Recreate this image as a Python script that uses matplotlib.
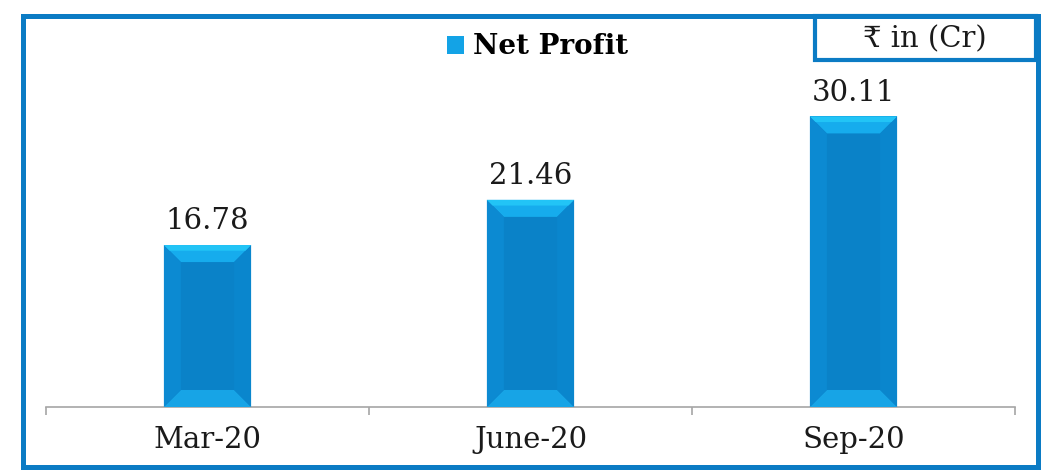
import matplotlib
matplotlib.use("Agg")
import matplotlib.pyplot as plt
from matplotlib.patches import Rectangle, Polygon, Patch

periods = ["Mar-20", "June-20", "Sep-20"]
net_profit = [16.78, 21.46, 30.11]

W, H = 1044, 470
fig = plt.figure(figsize=(W / 100, H / 100), dpi=100)
fig.patch.set_facecolor("white")

serif = ["DejaVu Serif", "DejaVu Sans", "Noto Sans"]


def px(x0, y0, x1, y1):
    # pixel box (top-left origin) -> figure fraction
    return x0 / W, 1 - y1 / H, (x1 - x0) / W, (y1 - y0) / H


ax = fig.add_axes(px(46, 20, 1015, 407))
x = list(range(len(periods)))
bars = ax.bar(x, net_profit, width=0.27, color="#0a82c8", zorder=2)
ax.set_xlim(-0.5, 2.5)
ax.set_ylim(0, 40.1)

# bevel faces on each bar
inv = ax.transData.inverted()
o = inv.transform((0, 0))
d = inv.transform((17, 17))
dx, dy = d[0] - o[0], d[1] - o[1]
for b in bars:
    x0, w, h = b.get_x(), b.get_width(), b.get_height()
    x1 = x0 + w
    faces = [
        ([(x0, h), (x1, h), (x1 - dx, h - dy), (x0 + dx, h - dy)], "#16aced"),
        ([(x0, 0), (x1, 0), (x1 - dx, dy), (x0 + dx, dy)], "#17a4e6"),
        ([(x0, 0), (x0 + dx, dy), (x0 + dx, h - dy), (x0, h)], "#0c8ad2"),
        ([(x1, 0), (x1 - dx, dy), (x1 - dx, h - dy), (x1, h)], "#0a86cd"),
    ]
    for pts, c in faces:
        ax.add_patch(Polygon(pts, closed=True, facecolor=c, edgecolor="none", zorder=3))
    # brighter strip on the top edge
    ax.add_patch(Polygon([(x0, h), (x1, h), (x1 - dx / 3, h - dy / 3), (x0 + dx / 3, h - dy / 3)],
                         closed=True, facecolor="#22c4f6", edgecolor="none", zorder=4))

ax.bar_label(bars, labels=[f"{v:.2f}" for v in net_profit], padding=7,
             fontsize=21, family=serif, color="#1a1a1a")

for s in ["top", "left", "right"]:
    ax.spines[s].set_visible(False)
ax.spines["bottom"].set_color("#a6a6a6")
ax.spines["bottom"].set_linewidth(1.2)
ax.set_yticks([])
ax.set_xticks(x)
ax.set_xticklabels(periods, fontsize=21, family=serif, color="#1a1a1a")
ax.tick_params(axis="x", which="major", length=0, pad=14)
ax.set_xticks([-0.5, 0.5, 1.5, 2.5], minor=True)
ax.tick_params(axis="x", which="minor", length=6, color="#a6a6a6", width=1.2)

# legend
fig.legend(handles=[Patch(facecolor="#13a3e6", edgecolor="none")], labels=["Net Profit"],
           loc="center", bbox_to_anchor=(0.515, 0.9), frameon=False,
           prop={"family": serif, "weight": "bold", "size": 20},
           handlelength=0.6, handleheight=0.6, handletextpad=0.35)

# outer frame and unit box
fig.patches.append(Rectangle((22.5 / W, 1 - 467 / H), (1038 - 22.5) / W, (467 - 16) / H,
                             transform=fig.transFigure, fill=False,
                             edgecolor="#0b7bc4", linewidth=3.6))
fig.patches.append(Rectangle((815 / W, 1 - 60 / H), (1036 - 815) / W, (60 - 16) / H,
                             transform=fig.transFigure, fill=False,
                             edgecolor="#0b7bc4", linewidth=3.0))
fig.text(925 / W, 1 - 39 / H, "₹ in (Cr)", ha="center", va="center",
         fontsize=21, family=serif, color="#1a1a1a")

fig.savefig("out.png", dpi=100)
